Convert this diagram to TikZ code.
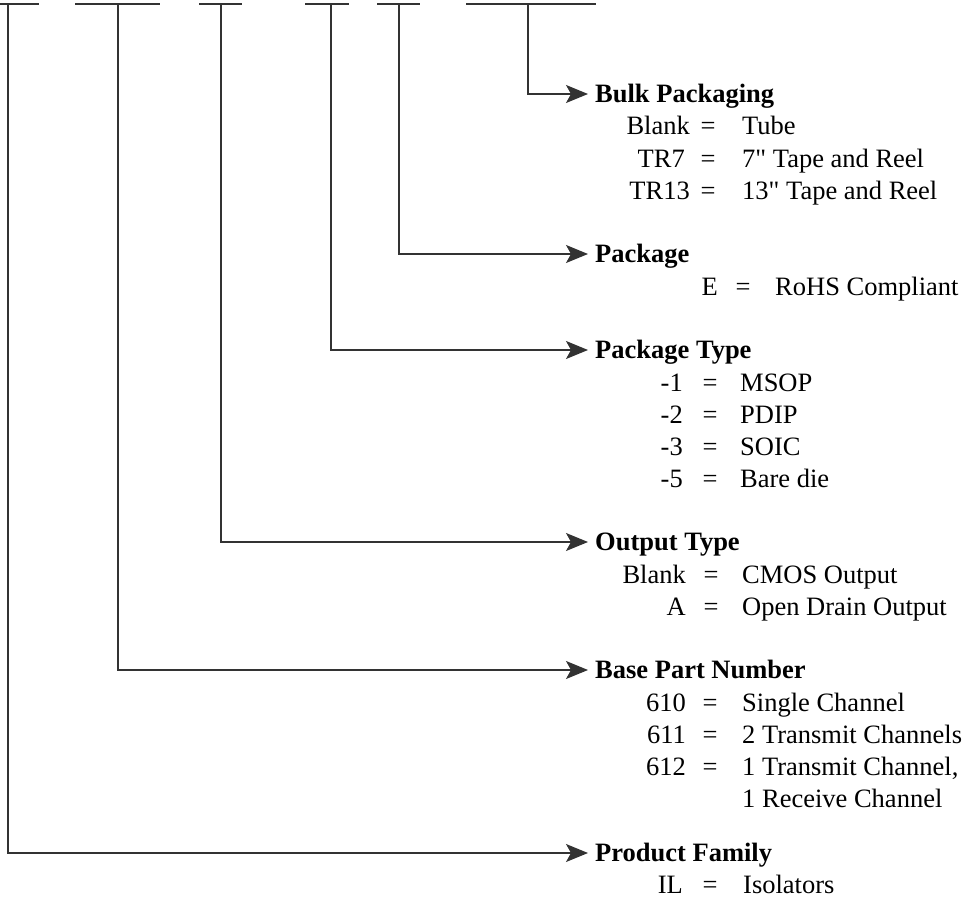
\documentclass[tikz,border=0pt]{standalone}
\usepackage{fontspec}
\setmainfont{Liberation Serif}[Ligatures=TeXOff]
\usetikzlibrary{arrows.meta}
\begin{document}
\begin{tikzpicture}[x=1pt,y=-1pt,
  wire/.style={line width=1.3pt,draw=black!80},
  arr/.style={wire,-{Stealth[length=22pt,width=18pt,inset=5pt]},shorten >=7pt},
  head/.style={anchor=west,inner sep=0pt,text height=17.5pt,text depth=0pt,font=\fontsize{26.5}{32}\selectfont\bfseries},
  lbl/.style={anchor=base east,inner sep=0pt,font=\fontsize{26.5}{32}\selectfont},
  eq/.style={anchor=base,inner sep=0pt,font=\fontsize{26.5}{32}\selectfont},
  val/.style={anchor=base west,inner sep=0pt,font=\fontsize{26.5}{32}\selectfont}]
\useasboundingbox (0,0) rectangle (962,907);
% top blanks
\foreach \a/\b in {0/39,75/160,199/242,305/349,377/420,466/596}
  \draw[wire] (\a,4) -- (\b,4);
\coordinate (t1) at (8,4);
\coordinate (t2) at (118,4);
\coordinate (t3) at (221,4);
\coordinate (t4) at (331,4);
\coordinate (t5) at (399,4);
\coordinate (t6) at (528,4);
% headings
\node[head] (h6) at (595,94) {Bulk Packaging};
\node[head] (h5) at (595,254) {Package};
\node[head] (h4) at (595,350) {Package Type};
\node[head] (h3) at (595,542) {Output Type};
\node[head] (h2) at (595,670) {Base Part Number};
\node[head] (h1) at (595,853) {Product Family};
% connectors
\draw[arr] (t6) |- (h6.west);
\draw[arr] (t5) |- (h5.west);
\draw[arr] (t4) |- (h4.west);
\draw[arr] (t3) |- (h3.west);
\draw[arr] (t2) |- (h2.west);
\draw[arr] (t1) |- (h1.west);
% entries: label right edge / = centre / value start / baseline
\newcommand{\entry}[6]{%
  \node[lbl] at (#1,#4) {#5};
  \node[eq] at (#2,#4) {=};
  \node[val] at (#3,#4) {#6};}
\entry{690}{708}{742}{135}{Blank}{Tube}
\entry{685}{708}{742}{167}{TR7}{7" Tape and Reel}
\entry{690}{708}{742}{199}{TR13}{13" Tape and Reel}
\entry{718}{743}{775}{295}{E}{RoHS Compliant}
\entry{683}{710}{740}{391}{-1}{MSOP}
\entry{683}{710}{740}{423}{-2}{PDIP}
\entry{683}{710}{740}{455}{-3}{SOIC}
\entry{683}{710}{740}{487}{-5}{Bare die}
\entry{686}{711}{742}{583}{Blank}{CMOS Output}
\entry{686}{711}{742}{615}{A}{Open Drain Output}
\entry{686}{710}{742}{711}{610}{Single Channel}
\entry{686}{710}{742}{743}{611}{2 Transmit Channels}
\entry{686}{710}{742}{775}{612}{1 Transmit Channel,}
\node[val] at (742,807) {1 Receive Channel};
\entry{683}{710}{743}{893}{IL}{Isolators}
\end{tikzpicture}
\end{document}
